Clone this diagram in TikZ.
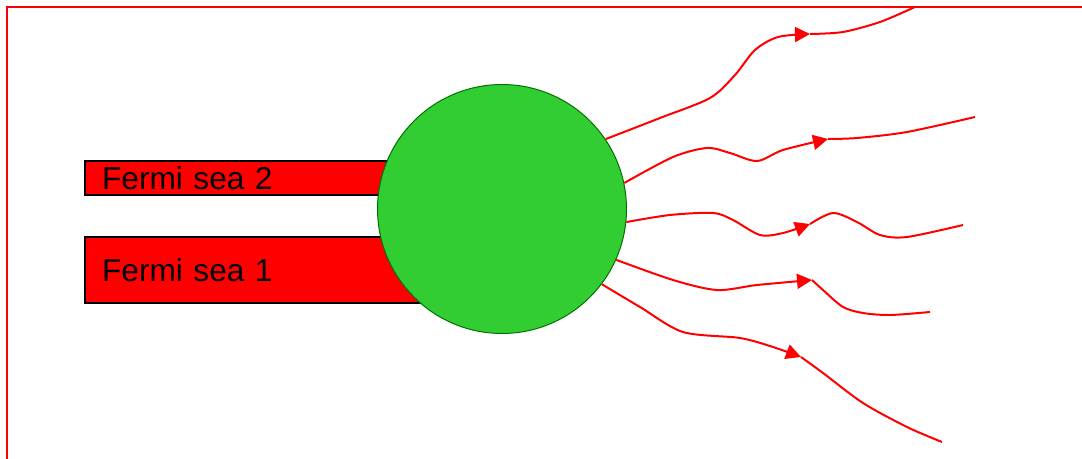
\documentclass[tikz,border=0pt]{standalone}
\usepackage{fontspec}
\setmainfont{Liberation Sans}
\usetikzlibrary{arrows.meta}

\definecolor{blobgreen}{RGB}{50,205,50}

\tikzset{
	seabox/.style={draw=black, line width=0.045cm, fill=red, anchor=north west,
		minimum width=7.12cm, text width=6.44cm, inner xsep=0.34cm, inner ysep=0pt,
		align=left, font=\fontsize{18}{22}\selectfont},
	blob/.style={circle, draw=green!45!black, fill=blobgreen, line width=0.02cm,
		minimum size=4.98cm, inner sep=0pt},
	wave/.style={red, line width=0.04cm},
	headed/.style={-{Triangle[length=0.3cm,width=0.3cm]}}
}

\begin{document}
\begin{tikzpicture}[x=0.02cm, y=-0.02cm]
		\useasboundingbox (0,0) rectangle (1082,459);
		% frame, only top and left show
		\draw[red, line width=0.05cm] (7,459) -- (7,7) -- (1082,7);

		% the two Fermi seas
		\node[seabox, minimum height=0.68cm] (sea2) at (84,160) {Fermi sea 2};
		\node[seabox, minimum height=1.32cm] (sea1) at (84,236) {Fermi sea 1};

		\node[blob] (core) at (502,209) {};

		% outgoing wavy lines
		\coordinate (t1) at (810,34);
		\coordinate (t2) at (828,139);
		\coordinate (t3) at (810,224);
		\coordinate (t4) at (812,280);
		\coordinate (t5) at (801,357);

		\draw[wave, headed] plot[smooth] coordinates {(core.34) (660,118) (710,98) (735,75) (755,50) (778,37) (t1)};
		\draw[wave] plot[smooth] coordinates {(t1) (843,32) (880,22) (915,7)};

		\draw[wave, headed] plot[smooth] coordinates {(core.12) (673,157) (707,148) (730,153) (757,161) (783,150) (t2)};
		\draw[wave] plot[smooth] coordinates {(t2) (857,138) (907,132) (975,117)};

		\draw[wave, headed] plot[smooth] coordinates {(core.-6) (670,215) (713,213) (733,220) (760,235) (783,233) (t3)};
		\draw[wave] plot[smooth] coordinates {(t3) (833,213) (857,222) (880,235) (907,237) (963,225)};

		\draw[wave, headed] plot[smooth] coordinates {(core.-24) (673,280) (717,290) (757,285) (t4)};
		\draw[wave] plot[smooth] coordinates {(t4) (823,290) (843,307) (863,313) (890,315) (930,312)};

		\draw[wave, headed] plot[smooth] coordinates {(core.-37) (640,307) (683,332) (740,338) (773,347) (t5)};
		\draw[wave] plot[smooth] coordinates {(t5) (823,373) (863,403) (907,427) (942,442)};

	\end{tikzpicture}
\end{document}
